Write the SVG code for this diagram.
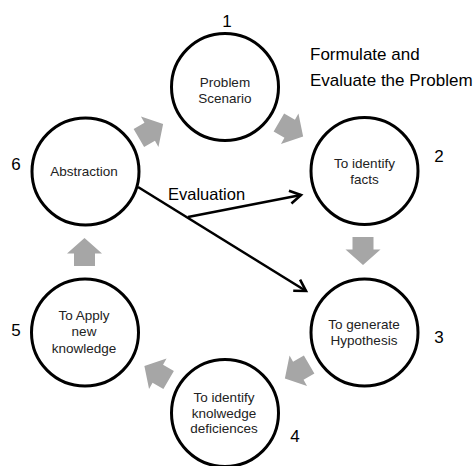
<svg xmlns="http://www.w3.org/2000/svg" xmlns:xlink="http://www.w3.org/1999/xlink" width="473" height="466" viewBox="0 0 473 466">
  <style>
    .node circle { fill: #ffffff; stroke: #000000; stroke-width: 3; }
    .lbl { font-family: "Liberation Sans", Arial, sans-serif; font-size: 13.5px; fill: #222222; text-anchor: middle; }
    .num { font-family: "Liberation Sans", Arial, sans-serif; font-size: 17px; fill: #000000; text-anchor: middle; }
    .big { font-family: "Liberation Sans", Arial, sans-serif; font-size: 17px; fill: #000000; }
    .blk { fill: #a6a6a6; }
    .line { fill: none; stroke: #000000; stroke-width: 2.6; }
  </style>
  <defs>
    <path id="blockArrow" d="M-14,-10.5 L-1.5,-10.5 L-1.5,-17.5 L14,0 L-1.5,17.5 L-1.5,10.5 L-14,10.5 Z"/>
    <marker id="open" markerUnits="userSpaceOnUse" markerWidth="20" markerHeight="20" refX="0" refY="0" viewBox="-14 -10 16 20" orient="auto">
      <path d="M-11,-6.5 L0,0 L-11,6.5" fill="none" stroke="#000000" stroke-width="2.6" stroke-linejoin="miter"/>
    </marker>
  </defs>

  <g id="connectors">
    <use xlink:href="#blockArrow" class="blk" transform="translate(151,131) rotate(-30)"/>
    <use xlink:href="#blockArrow" class="blk" transform="translate(291,129.5) rotate(30)"/>
    <use xlink:href="#blockArrow" class="blk" transform="translate(363,251) rotate(90)"/>
    <use xlink:href="#blockArrow" class="blk" transform="translate(297,371.5) rotate(150)"/>
    <use xlink:href="#blockArrow" class="blk" transform="translate(156.5,373) rotate(210)"/>
    <use xlink:href="#blockArrow" class="blk" transform="translate(84.5,252) rotate(-90)"/>
    <path class="line" d="M188,217 L301,195" marker-end="url(#open)"/>
    <path class="line" d="M138,187 L306,291" marker-end="url(#open)"/>
    <text class="big" x="168" y="200" style="font-size:16.5px">Evaluation</text>
  </g>

  <g id="node1" class="node">
    <circle cx="225" cy="87" r="53.5"/>
    <text class="lbl" x="225" y="87">Problem</text>
    <text class="lbl" x="225" y="103">Scenario</text>
    <text class="num" x="227" y="27">1</text>
  </g>
  <g id="node2" class="node">
    <circle cx="364.5" cy="171" r="53.5"/>
    <text class="lbl" x="364.5" y="168">To identify</text>
    <text class="lbl" x="364.5" y="183.5">facts</text>
    <text class="num" x="439" y="162">2</text>
  </g>
  <g id="node3" class="node">
    <circle cx="364.5" cy="332.5" r="53.5"/>
    <text class="lbl" x="364" y="328.5">To generate</text>
    <text class="lbl" x="364" y="345">Hypothesis</text>
    <text class="num" x="439" y="343">3</text>
  </g>
  <g id="node4" class="node">
    <circle cx="225" cy="413" r="53.5"/>
    <text class="lbl" x="224" y="401.5">To identify</text>
    <text class="lbl" x="224" y="417.5">knolwedge</text>
    <text class="lbl" x="224" y="433">deficiences</text>
    <text class="num" x="295" y="442">4</text>
  </g>
  <g id="node5" class="node">
    <circle cx="85" cy="332.5" r="53.5"/>
    <text class="lbl" x="84" y="320">To Apply</text>
    <text class="lbl" x="84" y="336">new</text>
    <text class="lbl" x="84" y="352.5">knowledge</text>
    <text class="num" x="16" y="336">5</text>
  </g>
  <g id="node6" class="node">
    <circle cx="85.5" cy="171.5" r="53.5"/>
    <text class="lbl" x="84" y="175.5">Abstraction</text>
    <text class="num" x="16" y="170">6</text>
  </g>

  <g id="annotation">
    <text class="big" x="310" y="60">Formulate and</text>
    <text class="big" x="310" y="86">Evaluate the Problem</text>
  </g>
</svg>
